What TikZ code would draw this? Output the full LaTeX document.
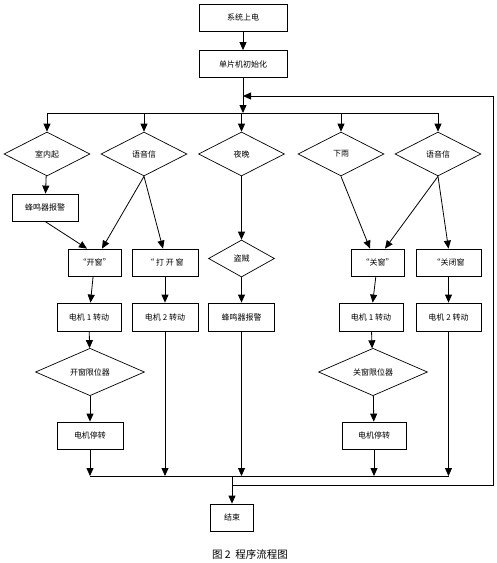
\documentclass[tikz,border=0pt]{standalone}
\usepackage{fontspec}
\setmainfont{Noto Sans CJK SC}
\usetikzlibrary{arrows.meta,shapes.geometric}

\tikzset{
  stepbox/.style={draw, rectangle, minimum height=27pt, inner sep=0pt, line width=0.8pt, font=\fontsize{8}{9}\selectfont},
  test/.style={draw, diamond, minimum width=86pt, minimum height=44pt, inner sep=0pt, line width=0.7pt, font=\fontsize{8}{9}\selectfont},
  flow/.style={-{Triangle[width=7pt,length=8pt]}, line width=0.8pt},
  wire/.style={line width=0.8pt}
}

\begin{document}
\begin{tikzpicture}[x=1pt,y=-1pt]
  \useasboundingbox (0,0) rectangle (496,563);
  \draw (243,17.5) node[stepbox, minimum width=88pt] (power) {系统上电};
  \draw (243,64) node[stepbox, minimum width=88pt] (init) {单片机初始化};
  \coordinate (loop) at (243,96);
  \coordinate (split) at (243,113);

    % first row of tests
    \draw (47,154) node[test] (fire) {室内起};
    \draw (144,154) node[test] (voiceA) {语音信};
    \draw (241.5,154) node[test] (night) {夜晚};
    \draw (341,154) node[test] (rain) {下雨};
    \draw (438,154) node[test] (voiceB) {语音信};

    \draw (45,207.5) node[stepbox, minimum width=66pt] (buzzA) {蜂鸣器报警};

    % commands
    \draw (94.5,262.5) node[stepbox, minimum width=53pt] (openq) {“开窗”};
    \draw (165,262.5) node[stepbox, minimum width=66pt] (openB) {“\ 打\ 开\ 窗};
    \draw (241.5,258.5) node[test, minimum width=66pt, minimum height=37pt] (thief) {盗贼};
    \draw (377.5,262.5) node[stepbox, minimum width=53pt] (closeq) {“关窗”};
    \draw (448.5,262.5) node[stepbox, minimum width=65pt] (closeB) {“关闭窗};

    % motors
    \draw (89,317) node[stepbox, minimum width=64pt, minimum height=28pt] (motorA) {电机 1 转动};
    \draw (165,317) node[stepbox, minimum width=66pt, minimum height=28pt] (motorB) {电机 2 转动};
    \draw (241.5,317) node[stepbox, minimum width=66pt, minimum height=28pt] (buzzB) {蜂鸣器报警};
    \draw (371,317) node[stepbox, minimum width=64pt, minimum height=28pt] (motorC) {电机 1 转动};
    \draw (448.5,317) node[stepbox, minimum width=65pt, minimum height=28pt] (motorD) {电机 2 转动};

    \draw (90,372) node[test, minimum width=109pt, minimum height=45pt] (limitA) {开窗限位器};
    \draw (373,372) node[test, minimum width=109pt, minimum height=45pt] (limitB) {关窗限位器};

    \draw (90,435.5) node[stepbox, minimum width=66pt] (stopA) {电机停转};
    \draw (374,435.5) node[stepbox, minimum width=64pt] (stopB) {电机停转};

    \coordinate (merge) at (232,476);
    \coordinate (back) at (493,485);
    \draw (232,517.5) node[stepbox, minimum width=43pt] (end) {结束};

    \draw (250,554) node[font=\fontsize{10.5}{12}\selectfont] (caption) {图\ 2\ \ 程序流程图};

      % main line
      \path[flow] (power) edge (init);
      \path[flow] (init) edge (split);
      \draw[wire] (split -| fire) -- (split -| voiceB);
      \path[flow] (split -| fire) edge (fire);
      \path[flow] (split -| voiceA) edge (voiceA);
      \path[flow] (split -| night) edge (night);
      \path[flow] (split -| rain) edge (rain);
      \path[flow] (split -| voiceB) edge (voiceB);

      % left branch
      \path[flow] (fire) edge (buzzA);
      \path[flow] (buzzA.south) edge ([xshift=-7.5pt]openq.north);
      \path[flow] (voiceA.south) edge ([xshift=7.5pt]openq.north);
      \path[flow] (voiceA.south) edge ([xshift=-2pt]openB.north);
      \path[flow] (openq) edge (motorA);
      \path[flow] (openB) edge (motorB);
      \path[flow] (motorA) edge (limitA);
      \path[flow] (limitA) edge (stopA);

      % middle branch
      \path[flow] (night) edge (thief);
      \path[flow] (thief) edge (buzzB);

      % right branch
      \path[flow] (rain.south) edge ([xshift=-7.5pt]closeq.north);
      \path[flow] (voiceB.south) edge ([xshift=7.5pt]closeq.north);
      \path[flow] (voiceB.south) edge (closeB.north);
      \path[flow] (closeq) edge (motorC);
      \path[flow] (closeB) edge (motorD);
      \path[flow] (motorC) edge (limitB);
      \path[flow] (limitB) edge (stopB);

      % collect
      \path[flow] (stopA) edge (stopA |- merge);
      \path[flow] (motorB) edge (motorB |- merge);
      \path[flow] (buzzB) edge (buzzB |- merge);
      \path[flow] (stopB) edge (stopB |- merge);
      \path[flow] (motorD) edge (motorD |- merge);
      \draw[wire] (stopA |- merge) -- (motorD |- merge);
      \path[flow] (merge) edge (end);
      \draw[flow] (merge |- back) -- (back) -- (back |- loop) -- (loop);
\end{tikzpicture}
\end{document}
